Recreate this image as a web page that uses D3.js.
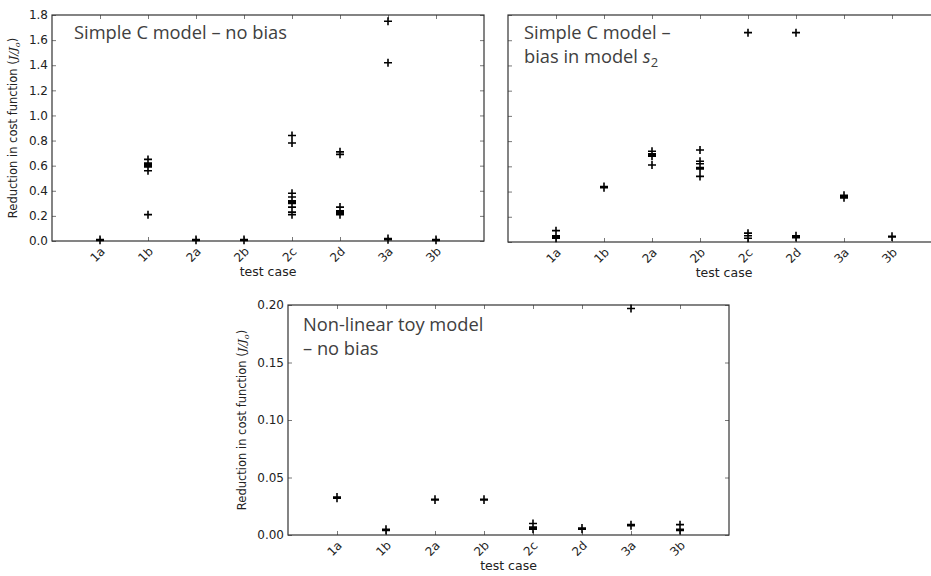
<!DOCTYPE html>
<html><head><meta charset="utf-8">
<script src="https://cdn.jsdelivr.net/npm/d3@7"></script>
<style>
body{margin:0;background:#fff;}
svg{display:block;}
</style></head>
<body>
<svg id="c" width="931" height="576"></svg>
<script>
const categories = ["1a","1b","2a","2b","2c","2d","3a","3b"];
// Panel 1: Simple C model – no bias
const noBias = [
  [0.005, 0.01, 0.012],
  [0.65, 0.62, 0.61, 0.60, 0.59, 0.56, 0.21],
  [0.005, 0.01, 0.012],
  [0.005, 0.01, 0.012],
  [0.84, 0.78, 0.38, 0.35, 0.32, 0.31, 0.30, 0.27, 0.23, 0.21],
  [0.71, 0.69, 0.27, 0.24, 0.23, 0.22, 0.21],
  [1.75, 1.42, 0.02, 0.01],
  [0.005, 0.01, 0.012]
];
// Panel 2: Simple C model – bias in model s2
const biasS2 = [
  [0.09, 0.05, 0.04, 0.03],
  [0.44, 0.43],
  [0.72, 0.70, 0.69, 0.68, 0.61],
  [0.73, 0.64, 0.62, 0.59, 0.58, 0.52],
  [1.66, 0.07, 0.05, 0.03],
  [1.66, 0.05, 0.04, 0.035],
  [0.37, 0.36, 0.35],
  [0.045, 0.04]
];
// Panel 3: Non-linear toy model – no bias
const toyNoBias = [
  [0.033, 0.032],
  [0.005, 0.004],
  [0.031, 0.0305],
  [0.031, 0.0305],
  [0.010, 0.007, 0.006, 0.005],
  [0.006, 0.005],
  [0.197, 0.009, 0.008],
  [0.009, 0.005, 0.004]
];
const yTicksC = [0, 0.2, 0.4, 0.6, 0.8, 1.0, 1.2, 1.4, 1.6, 1.8];
const yTicksToy = [0, 0.05, 0.10, 0.15, 0.20];

const svg = d3.select("#c");
const axisColor = "#333";
const tickFont = "DejaVu Sans, sans-serif";

function panel(opts){
  const {x0,x1,y0,y1,ymax,data,yTicks,yFmt,showYLabels,yLabelX} = opts;
  const x = d3.scaleLinear().domain([-1, categories.length]).range([x0, x1]);
  const y = d3.scaleLinear().domain([0, ymax]).range([y1, y0]);
  const g = svg.append("g");
  const idx = d3.range(categories.length);
  const tl = 4;
  const bottom = g.append("g").attr("transform",`translate(0,${y1})`)
    .call(d3.axisBottom(x).tickValues(idx).tickSize(-tl).tickFormat(""));
  const top = g.append("g").attr("transform",`translate(0,${y0})`)
    .call(d3.axisTop(x).tickValues(idx).tickSize(-tl).tickFormat(""));
  const left = g.append("g").attr("transform",`translate(${x0},0)`)
    .call(d3.axisLeft(y).tickValues(yTicks).tickSize(-tl).tickFormat(""));
  const right = g.append("g").attr("transform",`translate(${x1},0)`)
    .call(d3.axisRight(y).tickValues(yTicks).tickSize(-tl).tickFormat(""));
  [bottom,top,left,right].forEach(a=>{
    a.select(".domain").remove();
    a.selectAll("line").attr("stroke","#555").attr("stroke-width",0.8);
  });
  g.append("rect").attr("x",x0).attr("y",y0).attr("width",x1-x0).attr("height",y1-y0)
    .attr("fill","none").attr("stroke",axisColor).attr("stroke-width",1.2);
  g.selectAll(".xl").data(idx).enter().append("text")
    .attr("transform",d=>`translate(${x(d)-2},${y1+14}) rotate(-45)`)
    .attr("text-anchor","middle").attr("dominant-baseline","middle")
    .attr("font-family",tickFont).attr("font-size",12).attr("fill","#222")
    .text(d=>categories[d]);
  if(showYLabels){
    g.selectAll(".yl").data(yTicks).enter().append("text")
      .attr("x",x0-4).attr("y",d=>y(d)).attr("dy","0.35em")
      .attr("text-anchor","end")
      .attr("font-family",tickFont).attr("font-size",12).attr("fill","#222")
      .text(d=>d3.format(yFmt)(d));
    const yl = g.append("text")
      .attr("transform",`translate(${yLabelX},${(y0+y1)/2}) rotate(-90)`)
      .attr("text-anchor","middle")
      .attr("font-family",tickFont).attr("font-size",11.5).attr("fill","#222");
    yl.append("tspan").text("Reduction in cost function (");
    yl.append("tspan").attr("font-family","DejaVu Serif, serif").attr("font-style","italic").text("J/J");
    yl.append("tspan").attr("font-family","DejaVu Serif, serif").attr("font-style","italic").attr("font-size",8).attr("dy",3).text("o");
    yl.append("tspan").attr("dy",-3).text(")");
  }
  g.append("text").attr("x",(x0+x1)/2).attr("y",y1+35)
    .attr("text-anchor","middle").attr("font-family",tickFont).attr("font-size",12.5).attr("fill","#222")
    .text("test case");
  const pts = [];
  data.forEach((vals,i)=>vals.forEach(v=>pts.push({i,v})));
  const s = 4;
  g.append("path")
    .attr("d", pts.map(p=>{
      const px = x(p.i), py = y(p.v);
      return `M${px-s},${py}H${px+s}M${px},${py-s}V${py+s}`;
    }).join(""))
    .attr("stroke","#000").attr("stroke-width",1.6).attr("fill","none");
  return g;
}

panel({x0:52,x1:484,y0:15,y1:241,ymax:1.8,data:noBias,yTicks:yTicksC,yFmt:".1f",showYLabels:true,yLabelX:17});
panel({x0:508,x1:940,y0:15,y1:242,ymax:1.8,data:biasS2,yTicks:yTicksC,yFmt:".1f",showYLabels:false});
panel({x0:288,x1:729,y0:305,y1:535,ymax:0.2,data:toyNoBias,yTicks:yTicksToy,yFmt:".2f",showYLabels:true,yLabelX:246});

const annFont = "Open Sans, sans-serif";
const annColor = "#404040";
function ann(x,y,txt){
  return svg.append("text").attr("x",x).attr("y",y)
    .attr("font-family",annFont).attr("font-size",18.3).attr("fill",annColor).text(txt);
}
ann(74,39,"Simple C model – no bias");
ann(524,39,"Simple C model –");
const a2 = ann(524,63,"bias in model ");
a2.append("tspan").attr("font-style","italic").text("s");
a2.append("tspan").attr("font-size",13).attr("dy",4).text("2");
ann(303,331,"Non-linear toy model");
ann(303,355,"– no bias");
</script>
</body></html>
